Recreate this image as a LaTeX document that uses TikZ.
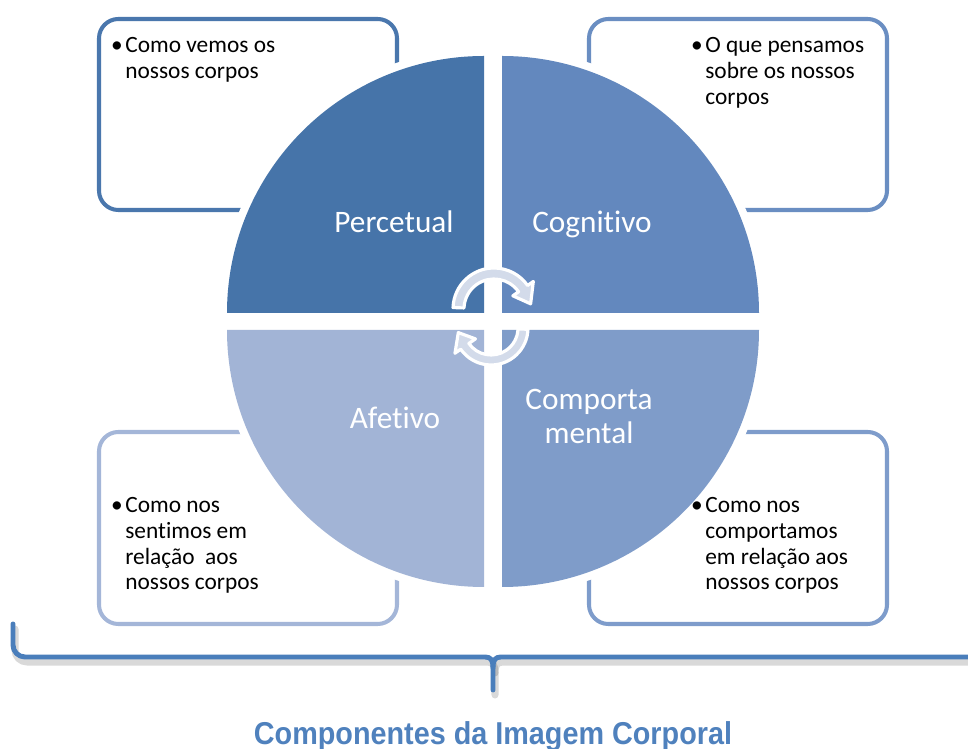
\documentclass[tikz,border=0pt]{standalone}
\usepackage{fontspec}
\setmainfont{Carlito}[Ligatures=NoCommon]
\newfontfamily\titlefont{Liberation Sans}
\usetikzlibrary{calc}

\definecolor{qperc}{HTML}{4674A9}
\definecolor{qcogn}{HTML}{6388BE}
\definecolor{qcomp}{HTML}{7F9CC9}
\definecolor{qafet}{HTML}{A2B4D6}
\definecolor{bperc}{HTML}{4A77AD}
\definecolor{bcogn}{HTML}{6A8EC2}
\definecolor{bcomp}{HTML}{7E9CCB}
\definecolor{bafet}{HTML}{A4B6D8}
\definecolor{setafill}{HTML}{D3DBEA}
\definecolor{chave}{HTML}{4A7EBB}
\definecolor{titulocor}{HTML}{4F81BD}

\newcommand{\itens}[1]{\begin{tabular}[t]{@{}l@{}}#1\end{tabular}}

\tikzset{
  caixa/.style={draw=#1, line width=2.3pt, rounded corners=11pt, fill=white},
  sector/.style={fill=#1, preaction={draw=white, line width=9pt}},
  rotulo/.style={text=white, font={\fontsize{17.8}{19.3}\selectfont}, inner sep=0pt, anchor=base},
  texto/.style={font={\fontsize{13.3}{14.6}\selectfont}, inner sep=0pt, anchor=base west},
  seta/.style={fill=setafill, draw=white, line width=1.8pt, line join=round},
  chaveta/.style={draw=chave, line width=2.8pt, line cap=round, line join=round},
}

\begin{document}
\begin{tikzpicture}[x=0.02cm,y=-0.02cm]
  \useasboundingbox (0,0) rectangle (968,749);

  % caixas de texto
  \draw[caixa=bperc] (99,19) rectangle (397,210);
  \draw[caixa=bcogn] (589,19) rectangle (887,210);
  \draw[caixa=bafet] (99,432) rectangle (397,624);
  \draw[caixa=bcomp] (589,432) rectangle (887,624);

  % os quatro quadrantes
  \foreach \cx/\cy/\a/\cor in
    {484/313/180/qperc, 502/313/270/qcogn, 502/330/0/qcomp, 484/330/90/qafet}
    \path[sector=\cor] (\cx,\cy) -- ++(\a:257) arc[start angle=\a, end angle=\a+90, radius=257] -- cycle;

  % setas circulares
  \coordinate (ca) at (494,309);
  \coordinate (cb) at (491,328);
  \path[seta] ($(ca)+(182:41)$) arc[start angle=182, end angle=325, radius=41]
    -- ($(ca)+(325:48)$) -- ($(ca)+(352:37)$) -- ($(ca)+(325:23)$) -- ($(ca)+(325:30)$)
    arc[start angle=325, end angle=182, radius=30] -- cycle;
  \path[seta] ($(cb)+(2:37)$) arc[start angle=2, end angle=145, radius=37]
    -- ($(cb)+(145:44)$) -- ($(cb)+(172:33)$) -- ($(cb)+(145:19)$) -- ($(cb)+(145:27)$)
    arc[start angle=145, end angle=2, radius=27] -- cycle;

  \node (lPerc) [rotulo] at (394,233) {Percetual};
  \node (lCogn) [rotulo] at (592,233) {Cognitivo};
  \node (lAfet) [rotulo] at (395,429) {Afetivo};
  \node (lComp) [rotulo] at (589,410) {\begin{tabular}[t]{@{}c@{}}Comporta\\mental\end{tabular}};

  \node (tPerc) [texto] at (125,53) {\itens{\llap{•\hspace{1.5pt}}Como vemos os\\nossos corpos}};
  \node (tCogn) [texto] at (705,53) {\itens{\llap{•\hspace{1.5pt}}O que pensamos\\sobre os nossos\\corpos}};
  \node (tAfet) [texto] at (125,513) {\itens{\llap{•\hspace{1.5pt}}Como nos\\sentimos em\\relação~ aos\\nossos corpos}};
  \node (tComp) [texto] at (705,513) {\itens{\llap{•\hspace{1.5pt}}Como nos\\comportamos\\em relação aos\\nossos corpos}};

  % chaveta com sombra
  \begin{scope}[shift={(2,5)}]
    \draw[chaveta, draw=black, opacity=.15, line width=4pt]
      (13,624) -- (13,645) arc[start angle=180, end angle=90, radius=12] -- (485,657)
      .. controls (491,657) and (493,660) .. (493,668) -- (493,690);
    \draw[chaveta, draw=black, opacity=.15, line width=4pt]
      (493,668) .. controls (493,660) and (495,657) .. (501,657) -- (975,657);
  \end{scope}
  \draw[chaveta] (13,624) -- (13,645) arc[start angle=180, end angle=90, radius=12] -- (485,657)
    .. controls (491,657) and (493,660) .. (493,668) -- (493,690);
  \draw[chaveta] (493,668) .. controls (493,660) and (495,657) .. (501,657) -- (975,657);

  \node (titulo) [text=titulocor, font={\titlefont\bfseries\fontsize{18}{21}\selectfont}] at (493,736)
    {\scalebox{0.91}[1]{Componentes da Imagem Corporal}};
\end{tikzpicture}
\end{document}
